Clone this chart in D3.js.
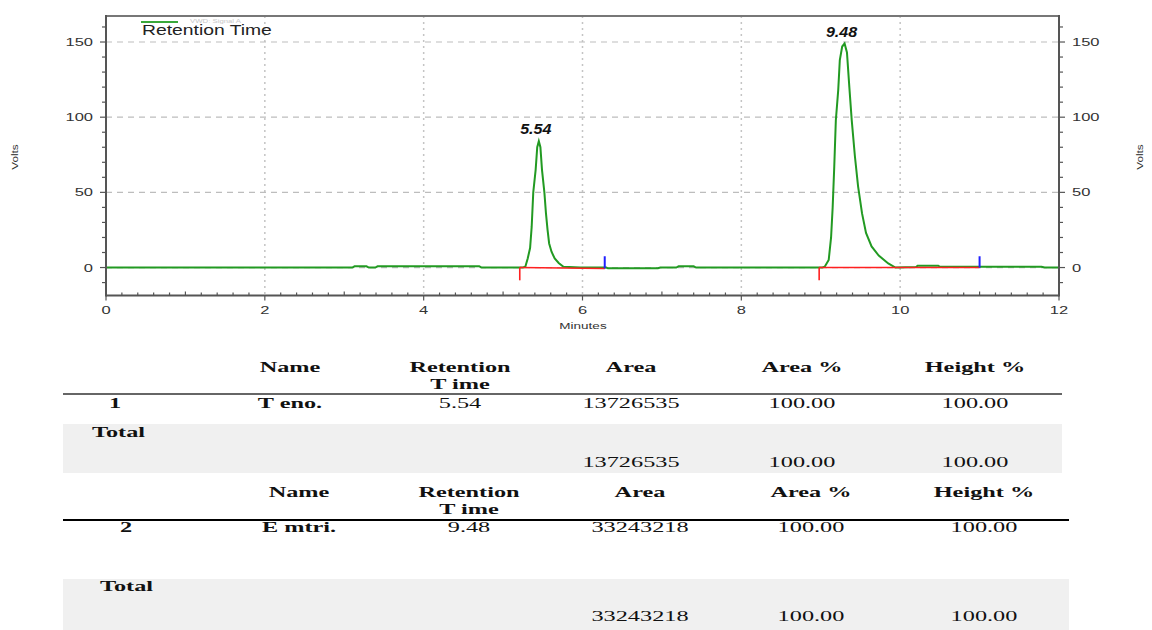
<!DOCTYPE html>
<html>
<head>
<meta charset="utf-8">
<script src="https://cdn.jsdelivr.net/npm/d3@7"></script>
<style>
body { margin: 0; background: #fff; }
svg { display: block; }
</style>
</head>
<body>
<script>
var width = 1152;
var height = 630;

// chromatogram trace (minutes, volts)
var traceTime  = [0, 3.10, 3.13, 3.28, 3.31, 3.39, 3.42, 4.70, 4.73, 5.25, 5.28, 5.31, 5.34, 5.36, 5.38, 5.41, 5.43, 5.45, 5.47, 5.49, 5.52, 5.54, 5.56, 5.58, 5.61, 5.65, 5.70, 5.76, 5.97, 6.30, 6.32, 6.95, 6.98, 7.18, 7.21, 7.40, 7.43, 9.02, 9.05, 9.10, 9.13, 9.15, 9.17, 9.19, 9.22, 9.24, 9.27, 9.30, 9.33, 9.36, 9.39, 9.43, 9.47, 9.52, 9.57, 9.64, 9.73, 9.85, 9.94, 10.20, 10.22, 10.48, 10.50, 11.78, 11.82, 12];
var traceVolts = [0, 0, 0.8, 0.8, 0, 0, 0.8, 0.8, 0, 0, 0.5, 6, 13, 27, 50, 65, 80, 84, 80, 65, 50, 36, 25, 16, 10.5, 6, 3, 0.5, 0, 0, -0.5, -0.5, 0, 0, 0.8, 0.8, 0, 0, 0.5, 5, 20, 40, 67, 98, 118, 138, 147, 149, 143, 120, 98, 74, 54, 36, 23, 14, 8, 2.7, 0, 0.3, 1.2, 1.2, 0.5, 0.5, 0, 0];

var peakTimes = [5.45, 9.30];
var peakHeights = [84, 149];
var peakLabels = ["5.54", "9.48"];

// integration baseline start / end (minutes)
var baseStart = [5.21, 8.98];
var baseEnd = [6.28, 11.0];
var baseEndVolts = [-0.6, 0];

var xTicks = [0, 2, 4, 6, 8, 10, 12];
var yTicks = [0, 50, 100, 150];

// result tables
var tableHeads = ["Name", "Retention", "Area", "Area %", "Height %"];
var peakNo = ["1", "2"];
var peakNames = ["T eno.", "E mtri."];
var retTimes = ["5.54", "9.48"];
var areas = ["13726535", "33243218"];
var areaPct = ["100.00", "100.00"];
var heightPct = ["100.00", "100.00"];

var svg = d3.select("body")
    .append("svg")
    .attr("width", width)
    .attr("height", height);

var x = d3.scaleLinear().domain([0, 12]).range([106, 1059]);
var y = d3.scaleLinear().domain([-18.6, 167.3]).range([295.5, 16]);

// text squeezed wide like the scanned report
function wideText(parent, tx, ty, str, size, sx, opt) {
    opt = opt || {};
    var g = parent.append("g").attr("transform", "translate(" + tx + "," + ty + ") scale(" + sx + ",1)");
    var t = g.append("text")
        .attr("text-anchor", opt.anchor || "middle")
        .attr("font-family", opt.family || "'Liberation Sans', Arial, sans-serif")
        .attr("font-size", size)
        .attr("font-weight", opt.weight || "normal")
        .attr("font-style", opt.style || "normal")
        .attr("fill", opt.fill || "#222")
        .text(str);
    return g;
}

// grid
svg.selectAll(".vgrid")
    .data(xTicks.slice(1, -1))
    .enter().append("line")
    .attr("x1", function(d) { return x(d); })
    .attr("x2", function(d) { return x(d); })
    .attr("y1", y.range()[1])
    .attr("y2", y.range()[0])
    .attr("stroke", "#c4c4c4")
    .attr("stroke-width", 1.5)
    .attr("stroke-dasharray", "2,4");

svg.selectAll(".hgrid")
    .data(yTicks)
    .enter().append("line")
    .attr("x1", x.range()[0])
    .attr("x2", x.range()[1])
    .attr("y1", function(d) { return y(d); })
    .attr("y2", function(d) { return y(d); })
    .attr("stroke", "#bdbdbd")
    .attr("stroke-width", 1.2)
    .attr("stroke-dasharray", "6,5");

// trace
var trace = traceTime.map(function(t, i) { return [t, traceVolts[i]]; });
var line = d3.line()
    .x(function(d) { return x(d[0]); })
    .y(function(d) { return y(d[1]); });

svg.append("path")
    .datum(trace)
    .attr("fill", "none")
    .attr("stroke", "#229a22")
    .attr("stroke-width", 2)
    .attr("d", line);

// integration baselines and markers
for (var i = 0; i < baseStart.length; i++) {
    svg.append("path")
        .datum([[baseStart[i], 0], [baseEnd[i], baseEndVolts[i]]])
        .attr("fill", "none")
        .attr("stroke", "#ff2020")
        .attr("stroke-width", 1.4)
        .attr("d", line);
    svg.append("line")
        .attr("x1", x(baseStart[i])).attr("x2", x(baseStart[i]))
        .attr("y1", y(0)).attr("y2", y(-8.5))
        .attr("stroke", "#ff2020").attr("stroke-width", 1.6);
    svg.append("line")
        .attr("x1", x(baseEnd[i])).attr("x2", x(baseEnd[i]))
        .attr("y1", y(baseEndVolts[i])).attr("y2", y(7.5))
        .attr("stroke", "#2020ff").attr("stroke-width", 2);
}

// peak labels
peakLabels.forEach(function(lbl, i) {
    wideText(svg, x(peakTimes[i]) - 3, y(peakHeights[i]) - 7, lbl, 14, 1.15,
        {weight: "bold", style: "italic", fill: "#111"});
});

// frame
svg.append("line").attr("x1", x(0)).attr("x2", x(12)).attr("y1", y.range()[1]).attr("y2", y.range()[1])
    .attr("stroke", "#777").attr("stroke-width", 2);
svg.append("line").attr("x1", x(0)).attr("x2", x(12)).attr("y1", y.range()[0]).attr("y2", y.range()[0])
    .attr("stroke", "#555").attr("stroke-width", 2);
svg.append("line").attr("x1", x(0)).attr("x2", x(0)).attr("y1", y.range()[1] - 1).attr("y2", y.range()[0] + 1)
    .attr("stroke", "#555").attr("stroke-width", 2);
svg.append("line").attr("x1", x(12)).attr("x2", x(12)).attr("y1", y.range()[1] - 1).attr("y2", y.range()[0] + 1)
    .attr("stroke", "#555").attr("stroke-width", 2);

// y ticks, both sides
var yMinor = d3.range(-10, 161, 10);
[[x(0), -1], [x(12), 1]].forEach(function(side) {
    svg.selectAll(null)
        .data(yMinor)
        .enter().append("line")
        .attr("x1", side[0])
        .attr("x2", function(d) { return side[0] + side[1] * (d % 50 === 0 ? 6 : 4); })
        .attr("y1", function(d) { return y(d); })
        .attr("y2", function(d) { return y(d); })
        .attr("stroke", "#555")
        .attr("stroke-width", 1.2);
    yTicks.forEach(function(d) {
        wideText(svg, side[0] + side[1] * 13, y(d) + 4, String(d), 11, 1.5,
            {anchor: side[1] < 0 ? "end" : "start", fill: "#333"});
    });
});

// x ticks
var xMinor = d3.range(0, 60.5, 1).map(function(d) { return d / 5; });
svg.selectAll(".xminor")
    .data(xMinor)
    .enter().append("line")
    .attr("x1", function(d) { return x(d); })
    .attr("x2", function(d) { return x(d); })
    .attr("y1", y.range()[0])
    .attr("y2", function(d) {
        var k = Math.round(d * 5);
        if (k % 10 === 0) return y.range()[0] + 5;
        if (k % 5 === 0) return y.range()[0] - 4;
        return y.range()[0] - 3;
    })
    .attr("stroke", "#555")
    .attr("stroke-width", 1.2);

xTicks.forEach(function(d) {
    wideText(svg, x(d), 314, String(d), 11, 1.5, {fill: "#333"});
});

wideText(svg, 583, 329, "Minutes", 9, 1.5, {fill: "#333"});

[18, 1143].forEach(function(px) {
    svg.append("g")
        .attr("transform", "translate(" + px + ",157) rotate(-90) scale(1.3,1)")
        .append("text")
        .attr("text-anchor", "middle")
        .attr("font-family", "'Liberation Sans', Arial, sans-serif")
        .attr("font-size", 9)
        .attr("fill", "#333")
        .text("Volts");
});

// legend
svg.append("line").attr("x1", 141).attr("x2", 178).attr("y1", 22).attr("y2", 22)
    .attr("stroke", "#3aa83a").attr("stroke-width", 2);
wideText(svg, 190, 23, "VWD: Signal A", 6, 1.3, {anchor: "start", fill: "#c8c8c8"});
wideText(svg, 142, 35, "Retention Time", 14, 1.38, {anchor: "start", fill: "#222"});

// tables
var serif = "'Liberation Serif', 'Times New Roman', serif";
var tables = [
    {dx: 0, headY: 372, lineY: 394, lineColor: "#666", lineW: 1.8, lineEnd: 1062,
     rowY: 408, shadeY: 424, shadeH: 49, totalX: 92, totalY: 437, sumY: 467, noX: 115},
    {dx: 9, headY: 497, lineY: 520, lineColor: "#000", lineW: 2.2, lineEnd: 1069,
     rowY: 532, shadeY: 579, shadeH: 51, totalX: 100, totalY: 591, sumY: 621, noX: 126}
];
var colX = [290, 460, 631, 802, 975];

tables.forEach(function(tb, i) {
    svg.append("rect")
        .attr("x", 63).attr("y", tb.shadeY)
        .attr("width", tb.lineEnd - 63).attr("height", tb.shadeH)
        .attr("fill", "#f0f0f0");
    tableHeads.forEach(function(h, j) {
        wideText(svg, colX[j] + tb.dx, tb.headY, h, 15, 1.62,
            {family: serif, weight: "bold", fill: "#111"});
    });
    wideText(svg, colX[1] + tb.dx, tb.headY + 17, "T ime", 15, 1.62,
        {family: serif, weight: "bold", fill: "#111"});
    svg.append("line")
        .attr("x1", 63).attr("x2", tb.lineEnd)
        .attr("y1", tb.lineY).attr("y2", tb.lineY)
        .attr("stroke", tb.lineColor).attr("stroke-width", tb.lineW);

    wideText(svg, tb.noX, tb.rowY, peakNo[i], 15, 1.62, {family: serif, weight: "bold", fill: "#111"});
    wideText(svg, colX[0] + tb.dx, tb.rowY, peakNames[i], 15, 1.62, {family: serif, weight: "bold", fill: "#111"});
    wideText(svg, colX[1] + tb.dx, tb.rowY, retTimes[i], 15, 1.62, {family: serif, fill: "#111"});
    wideText(svg, colX[2] + tb.dx, tb.rowY, areas[i], 15, 1.62, {family: serif, fill: "#111"});
    wideText(svg, colX[3] + tb.dx, tb.rowY, areaPct[i], 15, 1.62, {family: serif, fill: "#111"});
    wideText(svg, colX[4] + tb.dx, tb.rowY, heightPct[i], 15, 1.62, {family: serif, fill: "#111"});

    wideText(svg, tb.totalX, tb.totalY, "Total", 15, 1.62,
        {family: serif, weight: "bold", fill: "#111", anchor: "start"});
    wideText(svg, colX[2] + tb.dx, tb.sumY, areas[i], 15, 1.62, {family: serif, fill: "#111"});
    wideText(svg, colX[3] + tb.dx, tb.sumY, areaPct[i], 15, 1.62, {family: serif, fill: "#111"});
    wideText(svg, colX[4] + tb.dx, tb.sumY, heightPct[i], 15, 1.62, {family: serif, fill: "#111"});
});
</script>
</body>
</html>
